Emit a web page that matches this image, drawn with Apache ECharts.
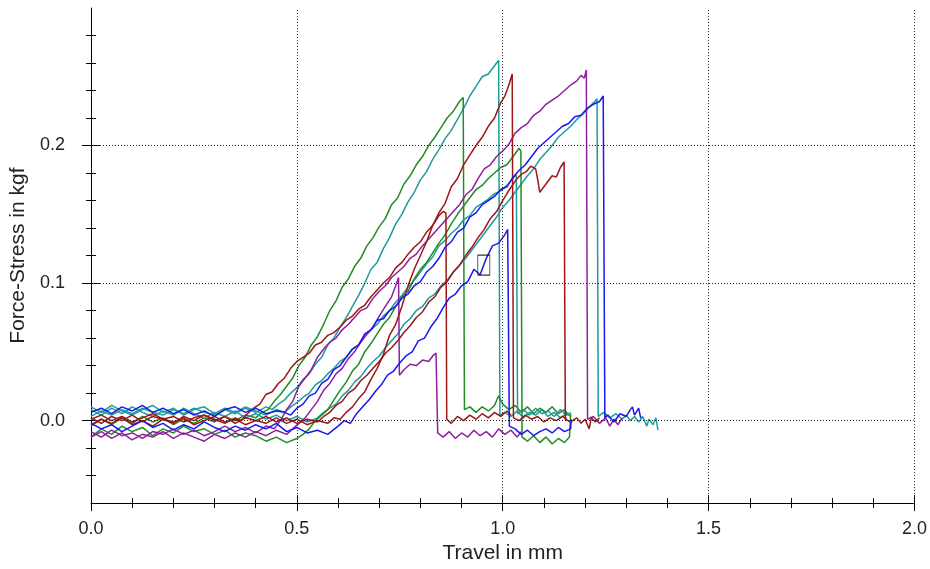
<!DOCTYPE html>
<html>
<head>
<meta charset="utf-8">
<script src="https://cdn.jsdelivr.net/npm/echarts@6/dist/echarts.min.js"></script>
<style>
  html, body { margin: 0; padding: 0; background: #fff; }
  #chart { width: 930px; height: 569px; }
</style>
</head>
<body>
<div id="chart"></div>
<script>
// tick positions
const xMinorTicks = [0, 0.1, 0.2, 0.3, 0.4, 0.5, 0.6, 0.7, 0.8, 0.9, 1.0, 1.1, 1.2, 1.3, 1.4, 1.5, 1.6, 1.7, 1.8, 1.9, 2.0]
const xMajorTicks = [0, 0.5, 1.0, 1.5, 2.0]
const yMinorTicks = [-0.04, -0.02, 0, 0.02, 0.04, 0.06, 0.08, 0.1, 0.12, 0.14, 0.16, 0.18, 0.2, 0.22, 0.24, 0.26, 0.28]
const yMajorTicks = [0, 0.1, 0.2]
const xGrid = [0.5, 1.0, 1.5, 2.0]
const yGrid = [0, 0.1, 0.2]

// travel (mm), force (kgf)
const greenA = [[0,-0.004],[0.025,0.001],[0.05,-0.003],[0.075,0.002],[0.1,-0.002],[0.125,0.003],[0.15,-0.001],[0.175,0.002],[0.2,-0.003],[0.225,0.001],[0.25,-0.002],[0.275,0.002],[0.3,-0.001],[0.325,0.003],[0.35,0.0],[0.375,0.004],[0.4,0.002],[0.415,0.006],[0.43,0.008],[0.445,0.014],[0.46,0.019],[0.475,0.025],[0.49,0.031],[0.505,0.04],[0.52,0.046],[0.535,0.055],[0.55,0.061],[0.565,0.07],[0.58,0.08],[0.595,0.087],[0.61,0.097],[0.625,0.103],[0.64,0.112],[0.655,0.118],[0.67,0.127],[0.685,0.133],[0.7,0.141],[0.715,0.147],[0.73,0.157],[0.745,0.162],[0.76,0.172],[0.775,0.178],[0.79,0.186],[0.805,0.192],[0.82,0.2],[0.835,0.206],[0.85,0.213],[0.865,0.22],[0.88,0.225],[0.895,0.232],[0.904,0.235],[0.907,0.008],[0.92,0.01],[0.935,0.006],[0.95,0.01],[0.965,0.007],[0.98,0.011],[0.99,0.018],[1.0,0.012],[1.015,0.008],[1.03,0.011],[1.045,0.006],[1.06,0.01],[1.075,0.005],[1.09,0.009],[1.105,0.006],[1.12,0.01],[1.135,0.005],[1.15,0.008],[1.16,0.004]]
const greenB = [[0,-0.012],[0.025,-0.006],[0.05,-0.01],[0.075,-0.004],[0.1,-0.008],[0.125,-0.005],[0.15,-0.011],[0.175,-0.006],[0.2,-0.009],[0.225,-0.004],[0.25,-0.008],[0.275,-0.006],[0.3,-0.01],[0.325,-0.007],[0.35,-0.012],[0.375,-0.009],[0.4,-0.011],[0.425,-0.015],[0.45,-0.012],[0.475,-0.016],[0.5,-0.013],[0.515,-0.01],[0.53,-0.006],[0.545,0.0],[0.56,0.004],[0.575,0.008],[0.59,0.015],[0.605,0.022],[0.62,0.028],[0.635,0.036],[0.65,0.041],[0.665,0.05],[0.68,0.056],[0.695,0.063],[0.71,0.07],[0.725,0.075],[0.74,0.083],[0.755,0.09],[0.77,0.094],[0.785,0.103],[0.8,0.11],[0.815,0.115],[0.83,0.122],[0.845,0.129],[0.86,0.135],[0.875,0.143],[0.89,0.15],[0.905,0.156],[0.92,0.162],[0.935,0.168],[0.95,0.171],[0.965,0.176],[0.98,0.18],[0.995,0.184],[1.01,0.186],[1.025,0.192],[1.04,0.198],[1.044,0.196],[1.047,-0.012],[1.06,-0.015],[1.075,-0.011],[1.09,-0.016],[1.105,-0.012],[1.12,-0.017],[1.135,-0.013],[1.15,-0.016],[1.162,-0.012],[1.165,0.005]]
const tealA = [[0,0.003],[0.025,0.007],[0.05,0.004],[0.075,0.008],[0.1,0.005],[0.125,0.009],[0.15,0.006],[0.175,0.004],[0.2,0.008],[0.225,0.005],[0.25,0.009],[0.275,0.006],[0.3,0.004],[0.325,0.008],[0.35,0.005],[0.375,0.009],[0.4,0.006],[0.425,0.01],[0.44,0.008],[0.455,0.012],[0.47,0.015],[0.485,0.02],[0.5,0.024],[0.515,0.03],[0.53,0.034],[0.545,0.041],[0.56,0.046],[0.575,0.055],[0.59,0.06],[0.605,0.068],[0.62,0.075],[0.635,0.083],[0.65,0.091],[0.665,0.1],[0.68,0.11],[0.695,0.115],[0.71,0.125],[0.725,0.133],[0.74,0.143],[0.755,0.15],[0.77,0.159],[0.785,0.166],[0.8,0.175],[0.815,0.181],[0.83,0.19],[0.845,0.197],[0.86,0.205],[0.875,0.211],[0.89,0.219],[0.905,0.227],[0.92,0.236],[0.935,0.243],[0.95,0.25],[0.965,0.252],[0.98,0.258],[0.99,0.262],[0.993,0.004],[1.005,0.006],[1.02,0.003],[1.035,0.007],[1.05,0.002],[1.065,0.006],[1.08,0.004],[1.095,0.008],[1.11,0.003],[1.125,0.006],[1.14,0.002],[1.155,0.005],[1.165,0.003]]
const tealB = [[0,0.008],[0.025,0.004],[0.05,0.009],[0.075,0.005],[0.1,0.01],[0.125,0.006],[0.15,0.003],[0.175,0.007],[0.2,0.004],[0.225,0.009],[0.25,0.005],[0.275,0.002],[0.3,0.006],[0.325,0.003],[0.35,0.007],[0.375,0.002],[0.4,0.005],[0.425,0.001],[0.45,0.004],[0.475,0.0],[0.5,0.003],[0.525,-0.001],[0.55,0.002],[0.565,0.006],[0.58,0.009],[0.595,0.012],[0.61,0.018],[0.625,0.022],[0.64,0.028],[0.655,0.032],[0.67,0.038],[0.685,0.043],[0.7,0.047],[0.715,0.053],[0.73,0.058],[0.745,0.063],[0.76,0.07],[0.775,0.074],[0.79,0.08],[0.805,0.083],[0.82,0.089],[0.835,0.092],[0.85,0.098],[0.865,0.102],[0.88,0.108],[0.895,0.113],[0.91,0.118],[0.925,0.124],[0.94,0.13],[0.955,0.136],[0.97,0.142],[0.985,0.148],[1.0,0.155],[1.015,0.16],[1.03,0.166],[1.045,0.172],[1.06,0.178],[1.075,0.183],[1.09,0.19],[1.105,0.195],[1.12,0.2],[1.135,0.206],[1.15,0.21],[1.165,0.214],[1.18,0.219],[1.195,0.223],[1.21,0.228],[1.22,0.231],[1.229,0.234],[1.232,0.003],[1.245,0.006],[1.26,0.002],[1.275,0.005],[1.29,0.001],[1.3,0.004],[1.31,0.0],[1.32,0.003],[1.33,-0.001],[1.34,0.003],[1.35,-0.004],[1.355,0.001],[1.365,-0.003],[1.372,0.002],[1.377,-0.007]]
const tealC = [[0,0.01],[0.025,0.006],[0.05,0.011],[0.075,0.007],[0.1,0.004],[0.125,0.008],[0.15,0.011],[0.175,0.006],[0.2,0.009],[0.225,0.004],[0.25,0.008],[0.275,0.01],[0.3,0.005],[0.325,0.009],[0.35,0.006],[0.375,0.01],[0.4,0.007],[0.425,0.004],[0.45,0.008],[0.47,0.006],[0.485,0.01],[0.5,0.013],[0.515,0.017],[0.53,0.02],[0.545,0.026],[0.56,0.029],[0.575,0.034],[0.59,0.038],[0.605,0.043],[0.62,0.046],[0.635,0.052],[0.65,0.055],[0.665,0.061],[0.68,0.066],[0.695,0.07],[0.71,0.076],[0.725,0.08],[0.74,0.086],[0.755,0.091],[0.77,0.097],[0.785,0.102],[0.8,0.108],[0.815,0.114],[0.83,0.119],[0.845,0.127],[0.86,0.131],[0.875,0.136],[0.89,0.14],[0.905,0.146],[0.92,0.149],[0.935,0.155],[0.95,0.158],[0.965,0.161],[0.98,0.165],[0.995,0.167],[1.01,0.171],[1.025,0.176],[1.033,0.179],[1.036,0.005],[1.05,0.008],[1.065,0.004],[1.08,0.009],[1.095,0.005],[1.11,0.007],[1.125,0.003],[1.14,0.008],[1.155,0.004],[1.165,0.006]]
const redA = [[0,-0.003],[0.025,0.001],[0.05,-0.002],[0.075,0.002],[0.1,-0.003],[0.125,0.0],[0.15,-0.004],[0.175,0.001],[0.2,-0.001],[0.225,0.002],[0.25,-0.003],[0.275,0.0],[0.3,0.003],[0.325,-0.001],[0.35,0.001],[0.375,-0.003],[0.4,0.0],[0.425,-0.002],[0.45,0.002],[0.475,-0.002],[0.5,0.001],[0.525,-0.003],[0.55,0.0],[0.575,-0.002],[0.59,0.002],[0.605,0.001],[0.62,0.006],[0.635,0.01],[0.65,0.016],[0.665,0.021],[0.68,0.03],[0.695,0.038],[0.71,0.048],[0.725,0.062],[0.74,0.07],[0.755,0.083],[0.77,0.098],[0.785,0.11],[0.8,0.12],[0.815,0.13],[0.83,0.142],[0.845,0.151],[0.86,0.158],[0.875,0.17],[0.89,0.176],[0.905,0.186],[0.92,0.193],[0.935,0.2],[0.95,0.206],[0.965,0.214],[0.98,0.22],[0.995,0.231],[1.005,0.236],[1.015,0.244],[1.023,0.252],[1.026,0.002],[1.04,0.0],[1.055,0.004],[1.07,0.001],[1.085,0.003],[1.1,-0.001],[1.115,0.002],[1.13,0.0],[1.145,0.003],[1.155,0.001]]
const redB = [[0,0.001],[0.025,0.004],[0.05,0.0],[0.075,0.003],[0.1,-0.001],[0.125,0.002],[0.15,0.005],[0.175,0.001],[0.2,0.003],[0.225,-0.001],[0.25,0.002],[0.275,0.004],[0.3,0.0],[0.325,0.003],[0.35,-0.002],[0.375,0.002],[0.4,0.0],[0.425,0.003],[0.45,-0.001],[0.475,0.002],[0.5,-0.002],[0.525,0.001],[0.55,-0.001],[0.565,0.003],[0.58,0.006],[0.595,0.011],[0.61,0.014],[0.625,0.02],[0.64,0.023],[0.655,0.029],[0.67,0.033],[0.685,0.038],[0.7,0.043],[0.715,0.049],[0.73,0.053],[0.745,0.058],[0.76,0.064],[0.775,0.069],[0.79,0.075],[0.805,0.079],[0.82,0.086],[0.835,0.09],[0.85,0.097],[0.865,0.101],[0.88,0.108],[0.895,0.113],[0.91,0.12],[0.925,0.126],[0.94,0.133],[0.955,0.139],[0.97,0.147],[0.985,0.152],[1.0,0.16],[1.012,0.166],[1.023,0.171],[1.035,0.176],[1.045,0.179],[1.057,0.181],[1.068,0.185],[1.08,0.183],[1.085,0.175],[1.09,0.166],[1.1,0.17],[1.11,0.174],[1.12,0.178],[1.13,0.177],[1.14,0.184],[1.149,0.188],[1.152,0.001],[1.165,-0.001],[1.18,0.002],[1.19,-0.002],[1.2,0.001],[1.21,-0.006],[1.215,0.002],[1.225,-0.001],[1.235,0.002]]
const redC = [[0,0.002],[0.025,-0.002],[0.05,0.003],[0.075,0.0],[0.1,0.004],[0.125,-0.001],[0.15,0.003],[0.175,0.001],[0.2,-0.002],[0.225,0.003],[0.25,0.0],[0.275,0.004],[0.3,0.001],[0.325,-0.002],[0.35,0.002],[0.365,0.0],[0.38,0.005],[0.395,0.009],[0.41,0.012],[0.425,0.019],[0.44,0.021],[0.455,0.027],[0.47,0.031],[0.485,0.038],[0.5,0.043],[0.515,0.046],[0.53,0.049],[0.545,0.055],[0.56,0.057],[0.575,0.062],[0.59,0.064],[0.605,0.068],[0.62,0.073],[0.635,0.076],[0.65,0.081],[0.665,0.084],[0.68,0.09],[0.695,0.095],[0.71,0.1],[0.725,0.104],[0.74,0.111],[0.755,0.115],[0.77,0.121],[0.785,0.126],[0.8,0.13],[0.815,0.137],[0.83,0.142],[0.845,0.149],[0.855,0.152],[0.862,0.151],[0.864,0.001],[0.875,-0.002],[0.89,0.003],[0.905,0.0],[0.92,0.004],[0.935,0.001],[0.95,0.005],[0.965,0.002],[0.98,0.006],[0.995,0.003],[1.01,0.007],[1.02,0.004]]
const purpleA = [[0,-0.008],[0.025,-0.012],[0.05,-0.007],[0.075,-0.011],[0.1,-0.009],[0.125,-0.013],[0.15,-0.008],[0.175,-0.01],[0.2,-0.006],[0.225,-0.01],[0.25,-0.007],[0.275,-0.011],[0.3,-0.008],[0.325,-0.004],[0.35,-0.008],[0.375,-0.005],[0.4,-0.009],[0.425,-0.004],[0.445,-0.006],[0.46,0.0],[0.475,0.008],[0.49,0.014],[0.505,0.025],[0.52,0.031],[0.535,0.037],[0.55,0.046],[0.565,0.052],[0.58,0.057],[0.595,0.06],[0.61,0.066],[0.625,0.07],[0.64,0.075],[0.655,0.08],[0.67,0.082],[0.685,0.089],[0.7,0.094],[0.715,0.098],[0.73,0.104],[0.745,0.108],[0.76,0.112],[0.775,0.118],[0.79,0.121],[0.805,0.127],[0.82,0.132],[0.835,0.137],[0.85,0.142],[0.865,0.147],[0.88,0.152],[0.895,0.157],[0.91,0.164],[0.925,0.168],[0.94,0.176],[0.955,0.183],[0.97,0.186],[0.985,0.192],[1.0,0.196],[1.015,0.201],[1.03,0.209],[1.045,0.213],[1.06,0.216],[1.075,0.222],[1.09,0.225],[1.105,0.23],[1.12,0.233],[1.135,0.236],[1.15,0.24],[1.165,0.244],[1.18,0.247],[1.19,0.251],[1.198,0.249],[1.203,0.255],[1.206,0.001],[1.22,0.003],[1.235,-0.002],[1.25,0.002],[1.26,-0.004],[1.27,0.001],[1.28,-0.003],[1.29,0.002]]
const purpleB = [[0,-0.012],[0.025,-0.008],[0.05,-0.013],[0.075,-0.009],[0.1,-0.014],[0.125,-0.01],[0.15,-0.012],[0.175,-0.008],[0.2,-0.013],[0.225,-0.009],[0.25,-0.012],[0.275,-0.015],[0.3,-0.01],[0.325,-0.013],[0.35,-0.009],[0.375,-0.012],[0.4,-0.008],[0.425,-0.011],[0.45,-0.007],[0.475,-0.01],[0.49,-0.006],[0.505,-0.002],[0.52,0.002],[0.535,0.008],[0.55,0.014],[0.565,0.022],[0.58,0.027],[0.595,0.034],[0.61,0.038],[0.625,0.045],[0.64,0.05],[0.655,0.057],[0.67,0.063],[0.685,0.068],[0.7,0.076],[0.715,0.083],[0.73,0.09],[0.74,0.098],[0.747,0.104],[0.749,0.033],[0.76,0.037],[0.775,0.041],[0.79,0.04],[0.805,0.044],[0.82,0.043],[0.83,0.047],[0.838,0.049],[0.842,-0.009],[0.855,-0.012],[0.87,-0.008],[0.885,-0.013],[0.9,-0.009],[0.915,-0.012],[0.93,-0.007],[0.945,-0.011],[0.96,-0.008],[0.975,-0.012],[0.99,-0.006],[1.005,-0.01],[1.02,-0.007],[1.035,-0.012],[1.045,-0.008]]
const blueA = [[0,0.006],[0.025,0.009],[0.05,0.005],[0.075,0.01],[0.1,0.007],[0.125,0.011],[0.15,0.006],[0.175,0.009],[0.2,0.005],[0.225,0.008],[0.25,0.004],[0.275,0.007],[0.3,0.003],[0.325,0.008],[0.35,0.01],[0.375,0.006],[0.4,0.009],[0.425,0.005],[0.45,0.007],[0.47,0.006],[0.485,0.004],[0.5,0.009],[0.515,0.012],[0.53,0.018],[0.545,0.02],[0.56,0.027],[0.575,0.03],[0.59,0.037],[0.605,0.04],[0.62,0.046],[0.635,0.052],[0.65,0.055],[0.665,0.063],[0.68,0.066],[0.695,0.073],[0.71,0.074],[0.725,0.08],[0.74,0.083],[0.755,0.089],[0.77,0.092],[0.785,0.098],[0.8,0.101],[0.815,0.108],[0.83,0.112],[0.845,0.118],[0.86,0.126],[0.875,0.13],[0.89,0.137],[0.905,0.14],[0.92,0.148],[0.935,0.151],[0.95,0.157],[0.965,0.16],[0.98,0.163],[0.995,0.168],[1.01,0.17],[1.025,0.177],[1.04,0.182],[1.055,0.186],[1.07,0.192],[1.085,0.198],[1.1,0.202],[1.115,0.206],[1.13,0.21],[1.145,0.214],[1.16,0.216],[1.175,0.221],[1.19,0.222],[1.205,0.227],[1.22,0.23],[1.235,0.232],[1.244,0.236],[1.248,0.002],[1.255,0.004],[1.27,-0.001],[1.285,0.005],[1.3,0.003],[1.31,0.008],[1.315,0.01],[1.32,0.004],[1.33,0.009],[1.335,0.002]]
const blueB = [[0,-0.002],[0.025,-0.006],[0.05,-0.003],[0.075,-0.008],[0.1,-0.004],[0.125,0.0],[0.15,-0.005],[0.175,-0.002],[0.2,-0.007],[0.225,-0.003],[0.25,-0.006],[0.275,-0.001],[0.3,-0.005],[0.325,-0.008],[0.35,-0.004],[0.375,-0.007],[0.4,-0.003],[0.425,-0.006],[0.45,-0.002],[0.475,-0.008],[0.5,-0.005],[0.525,-0.009],[0.55,-0.007],[0.575,-0.01],[0.6,-0.004],[0.615,0.0],[0.63,-0.002],[0.645,0.005],[0.66,0.01],[0.675,0.015],[0.69,0.021],[0.705,0.026],[0.72,0.033],[0.735,0.036],[0.75,0.042],[0.765,0.047],[0.78,0.05],[0.795,0.058],[0.81,0.06],[0.825,0.068],[0.84,0.074],[0.855,0.082],[0.87,0.089],[0.885,0.092],[0.9,0.098],[0.915,0.101],[0.93,0.11],[0.945,0.106],[0.96,0.118],[0.975,0.127],[0.99,0.129],[1.005,0.135],[1.012,0.139],[1.016,-0.004],[1.03,-0.006],[1.045,-0.01],[1.06,-0.007],[1.075,-0.011],[1.09,-0.008],[1.105,-0.006],[1.12,-0.009],[1.135,-0.005],[1.15,-0.008],[1.165,-0.006],[1.166,0.001]]
const boxMark = [[0.954, 0.113]]

const GREEN = '#1f8c24'
const TEAL = '#1d9c9a'
const RED = '#9c1616'
const PURPLE = '#8e1f9e'
const BLUE = '#1818f0'

const curves = [
  { data: tealA, color: TEAL },
  { data: greenA, color: GREEN },
  { data: tealB, color: TEAL },
  { data: tealC, color: TEAL },
  { data: greenB, color: GREEN },
  { data: purpleB, color: PURPLE },
  { data: purpleA, color: PURPLE },
  { data: redB, color: RED },
  { data: redC, color: RED },
  { data: redA, color: RED },
  { data: blueB, color: BLUE },
  { data: blueA, color: BLUE }
]

const font = 'Liberation Sans, Arial, sans-serif'
const chart = echarts.init(document.getElementById('chart'))

// extra axes that only carry tick marks, so ticks can cross the axis line
function tickAxis(base, ticks, len, inside) {
  return Object.assign({
    type: 'value',
    axisLine: { show: false, onZero: false },
    axisTick: { show: true, inside: inside, length: len, customValues: ticks, lineStyle: { color: '#000', width: 1 } },
    axisLabel: { show: false },
    splitLine: { show: false }
  }, base)
}

const xBase = { min: 0, max: 2, position: 'bottom' }
const yBase = { min: -0.06, max: 0.3, position: 'left' }

chart.setOption({
  animation: false,
  backgroundColor: '#fff',
  grid: { left: 91, right: 13, top: 8, bottom: 64 },
  xAxis: [
    {
      type: 'value', min: 0, max: 2, position: 'bottom',
      name: 'Travel in mm', nameLocation: 'middle', nameGap: 37,
      nameTextStyle: { fontFamily: font, fontSize: 21, color: '#222' },
      axisLine: { show: true, onZero: false, lineStyle: { color: '#000', width: 1 } },
      axisTick: { show: true, length: 5, customValues: xMinorTicks, lineStyle: { color: '#000' } },
      axisLabel: { customValues: xMajorTicks, formatter: v => v.toFixed(1), fontFamily: font, fontSize: 18, color: '#222', margin: 17 },
      splitLine: { show: false }
    },
    tickAxis(xBase, xMinorTicks, 5, true),
    tickAxis(xBase, xMajorTicks, 8, false),
    tickAxis(xBase, xMajorTicks, 8, true)
  ],
  yAxis: [
    {
      type: 'value', min: -0.06, max: 0.3, position: 'left',
      name: 'Force-Stress in kgf', nameLocation: 'middle', nameGap: 62,
      nameTextStyle: { fontFamily: font, fontSize: 21, color: '#222' },
      axisLine: { show: true, onZero: false, lineStyle: { color: '#000', width: 1 } },
      axisTick: { show: true, length: 5, customValues: yMinorTicks, lineStyle: { color: '#000' } },
      axisLabel: { customValues: yMajorTicks, formatter: v => v.toFixed(1), fontFamily: font, fontSize: 18, color: '#222', margin: 26 },
      splitLine: { show: false }
    },
    tickAxis(yBase, yMinorTicks, 5, true),
    tickAxis(yBase, yMajorTicks, 9, false),
    tickAxis(yBase, yMajorTicks, 9, true)
  ],
  series: [
    {
      type: 'line', data: [], z: 1, silent: true,
      markLine: {
        silent: true, symbol: 'none', label: { show: false },
        lineStyle: { color: '#222', width: 1, type: [1, 2] },
        data: xGrid.map(v => ({ xAxis: v })).concat(yGrid.map(v => ({ yAxis: v })))
      }
    }
  ].concat(curves.map(c => ({
    type: 'line', data: c.data, showSymbol: false, symbol: 'none', z: 2,
    lineStyle: { color: c.color, width: 1.5 }, itemStyle: { color: c.color }
  }))).concat([
    {
      type: 'scatter', data: boxMark, symbol: 'rect', symbolSize: [12, 20], z: 5,
      itemStyle: { color: 'rgba(255,255,255,0)', borderColor: '#000', borderWidth: 1 }
    }
  ])
})
</script>
</body>
</html>
